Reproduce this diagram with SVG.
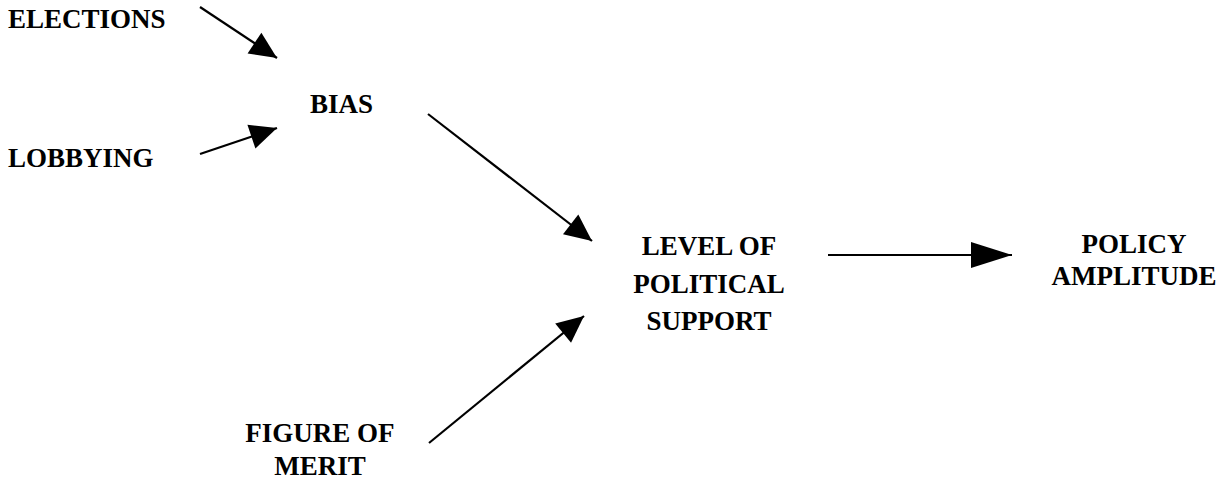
<svg xmlns="http://www.w3.org/2000/svg" width="1217" height="480" viewBox="0 0 1217 480">
<style>
text{font-family:"Liberation Serif","Times New Roman",serif;font-weight:bold;font-size:27px;fill:#000}
.c{text-anchor:middle}
.ln{stroke:#000;stroke-width:2.2;fill:none}
</style>
<defs>
<marker id="ah" markerUnits="userSpaceOnUse" markerWidth="30" markerHeight="28" refX="27" refY="12.5" orient="auto" overflow="visible">
<path d="M0,0 L27,12.5 L0,25 z" fill="#000"/>
</marker>
<marker id="ahL" markerUnits="userSpaceOnUse" markerWidth="44" markerHeight="28" refX="41" refY="13" orient="auto" overflow="visible">
<path d="M0,0 L41,13 L0,26 z" fill="#000"/>
</marker>
</defs>
<rect width="1217" height="480" fill="#fff"/>
<g id="elections"><text x="8" y="28">ELECTIONS</text></g>
<g id="lobbying"><text x="8" y="167">LOBBYING</text></g>
<g id="bias"><text x="310" y="113">BIAS</text></g>
<g id="level"><text class="c" x="709" y="255">LEVEL OF</text><text class="c" x="709" y="293">POLITICAL</text><text class="c" x="709" y="330">SUPPORT</text></g>
<g id="policy"><text class="c" x="1134" y="253">POLICY</text><text class="c" x="1134" y="285">AMPLITUDE</text></g>
<g id="figure"><text class="c" x="320" y="442">FIGURE OF</text><text class="c" x="320" y="475">MERIT</text></g>
<g id="connectors">
<line class="ln" x1="200" y1="7" x2="277" y2="58" marker-end="url(#ah)"/>
<line class="ln" x1="200" y1="154" x2="277" y2="128" marker-end="url(#ah)"/>
<line class="ln" x1="428" y1="114" x2="592" y2="241" marker-end="url(#ah)"/>
<line class="ln" x1="429" y1="443" x2="584" y2="316" marker-end="url(#ah)"/>
<line class="ln" x1="828" y1="255" x2="1012" y2="255" marker-end="url(#ahL)"/>
</g>
</svg>
